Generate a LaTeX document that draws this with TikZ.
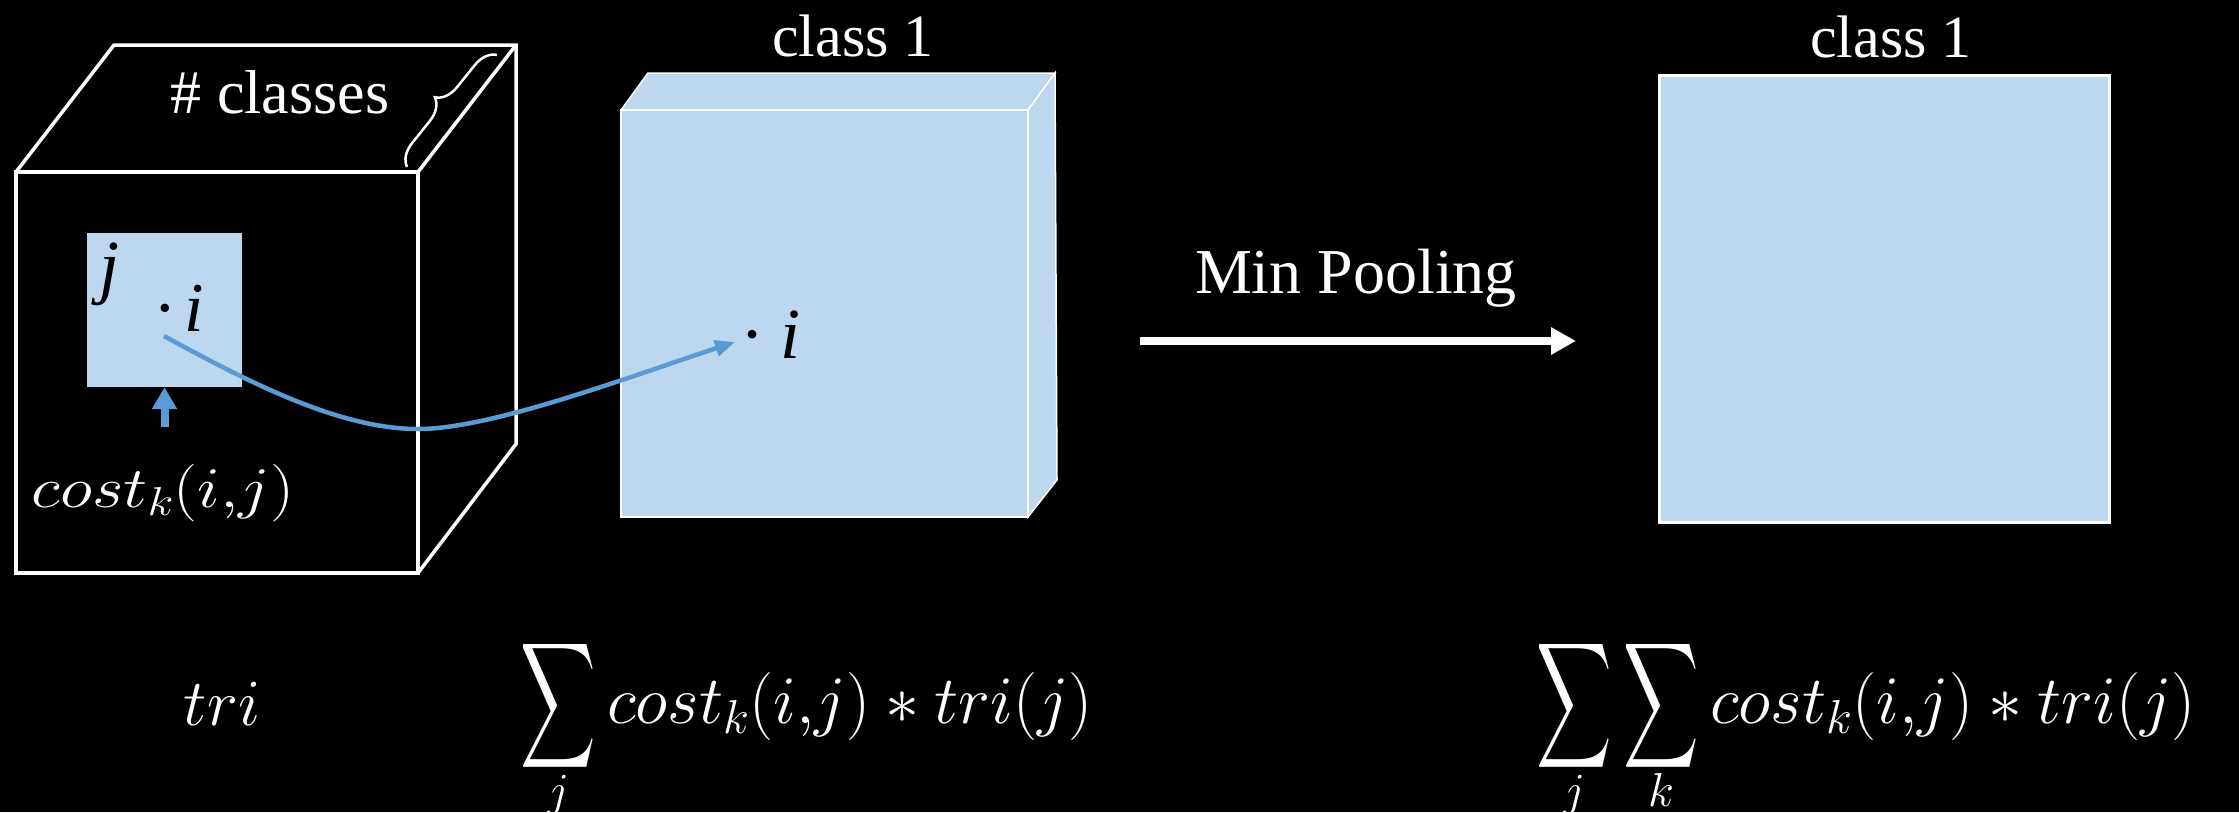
\RequirePackage{fix-cm}
\documentclass[tikz,border=0pt]{standalone}
\DeclareFontShape{OMX}{cmex}{m}{n}{<-> cmex10}{}
\usepackage[no-math]{fontspec}
\setmainfont{Liberation Serif}
\usepackage{graphicx}
\usetikzlibrary{arrows.meta,decorations.pathreplacing}
\definecolor{lblue}{HTML}{BDD7EE}
\definecolor{curveblue}{HTML}{5B9BD5}
\newcommand{\tallsum}[1]{\mathop{\vcenter{\hbox{\scalebox{0.77}[1.29]{$\displaystyle\sum$}}}}\limits_{\smash{\raisebox{10pt}{$\scriptstyle #1$}}}}
\begin{document}
\begin{tikzpicture}[x=1pt,y=-1pt,
  cubeline/.style={draw=white, line width=3.5pt, line join=miter},
  wtxt/.style={text=white, inner sep=0pt},
  btxt/.style={text=black, inner sep=0pt},
  plane/.style={fill=lblue, draw=white, inner sep=0pt},
]
\fill[black] (0,0) rectangle (2239,812);
\useasboundingbox (0,0) rectangle (2239,812);

% ---- cube ----
\draw[cubeline] (16,172) rectangle (418,573);
\draw[cubeline] (16,172) -- (114,45) -- (516,45) -- (516,444) -- (418,573);
\draw[cubeline] (418,172) -- (516,45);
\coordinate (brA) at (407,167);
\coordinate (brB) at (497,55);
\draw[white, line width=2.5pt, decorate, decoration={brace, amplitude=22pt}] (brA) -- (brB);
\node[wtxt, font=\fontsize{62}{62}\selectfont, anchor=base] (ncl) at (280,113) {\# classes};

\node[fill=lblue, draw=none, inner sep=0pt, minimum width=155pt, minimum height=154pt] (sq) at (164.5,310) {};
\node[btxt, font=\fontsize{72}{72}\selectfont\itshape, anchor=base] (jl) at (110,290) {j};
\node[btxt, font=\fontsize{70}{70}\selectfont\itshape, anchor=base west] (ia) at (155,331) {·\hspace{12pt}i};

\node[wtxt, font=\fontsize{64}{64}\selectfont, anchor=base] (cost) at (163,507) {\scalebox{1.06}[0.9]{$cost_k(i{,}j)$}};
\draw[curveblue, line width=8pt, -{Triangle[length=22pt,width=24pt]}, shorten <=37pt] (cost.north -| sq.south) -- (sq.south);

% ---- middle plane ----
\fill[plane, line width=1.5pt] (621,110) -- (648,73) -- (1055,73) -- (1028,110) -- cycle;
\fill[plane, line width=1.5pt] (1028,110) -- (1055,73) -- (1057,480) -- (1028,517) -- cycle;
\node[plane, line width=2pt, minimum width=407pt, minimum height=407pt] (mid) at (824.5,313.5) {};
\node[wtxt, font=\fontsize{60}{60}\selectfont, anchor=base] (c1) at (853,56) {class 1};
\node[btxt, font=\fontsize{72}{72}\selectfont\itshape, anchor=base west] (ib) at (742,358) {·\hspace{20pt}i};

% ---- curve ----
\coordinate (src) at (164,336);
\coordinate (low) at (418,429);
\coordinate (dst) at (735,342);
\draw[curveblue, line width=4.5pt, -{Triangle[length=20pt,width=16pt]}] (src) .. controls (250,383) and (340,429) .. (low) .. controls (490,429) and (620,380) .. (dst);

% ---- min pooling ----
\coordinate (mpS) at (1140,341);
\coordinate (mpE) at (1576,341);
\draw[white, line width=8pt, -{Triangle[length=25pt,width=26pt]}] (mpS) -- (mpE);
\node[wtxt, font=\fontsize{64}{64}\selectfont, anchor=base] (mp) at (1356,293) {Min Pooling};

% ---- right plane ----
\node[plane, line width=3pt, minimum width=450pt, minimum height=447pt] (out) at (1884,298.5) {};
\node[wtxt, font=\fontsize{60}{60}\selectfont, anchor=base] (c2) at (1891,57) {class 1};

% ---- formulas ----
\node[wtxt, font=\fontsize{66}{66}\selectfont, anchor=base] (tri) at (222,725) {$tri$};
\node[wtxt, font=\fontsize{68}{68}\selectfont, anchor=base west] (f1) at (520,723) {$\displaystyle\tallsum{j} cost_k(i{,}j)*tri(j)$};
\node[wtxt, font=\fontsize{68}{68}\selectfont, anchor=base west] (f2) at (1536,723) {$\displaystyle\tallsum{j}\tallsum{k} cost_k(i{,}j)*tri(j)$};
\end{tikzpicture}
\end{document}
